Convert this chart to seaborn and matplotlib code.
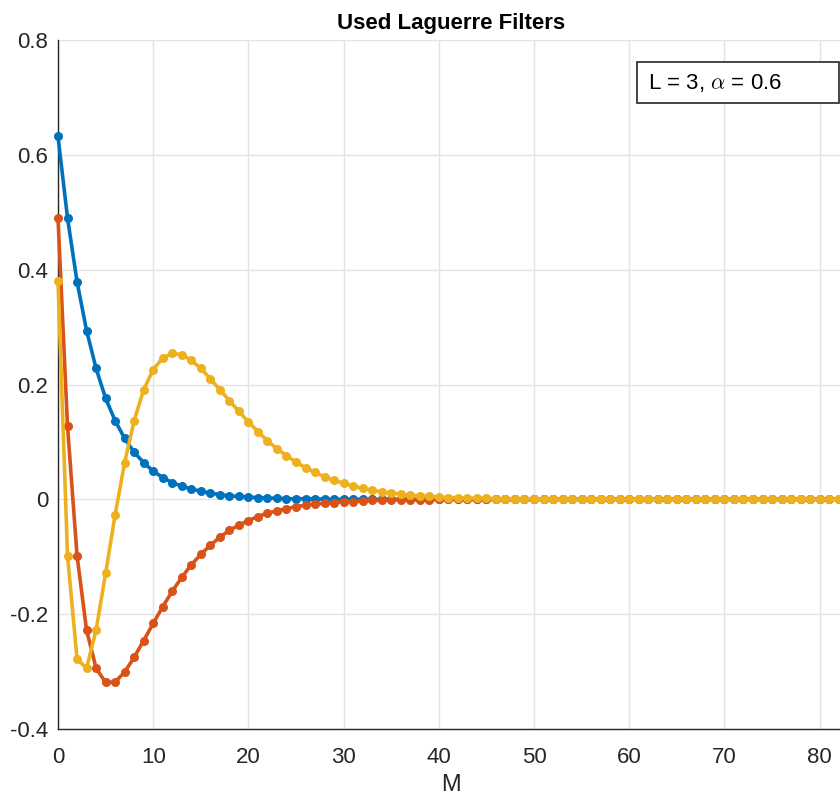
import matplotlib
matplotlib.use("Agg")
import matplotlib.pyplot as plt
import matplotlib.patches as mpatches
from matplotlib.ticker import FuncFormatter
import numpy as np
import pandas as pd
import seaborn as sns

# ---------------- data ----------------
M = list(range(84))

BLUE = [
    0.632, 0.490, 0.379, 0.294, 0.228, 0.176, 0.137, 0.106, 0.082, 0.064,
    0.049, 0.038, 0.029, 0.023, 0.018, 0.014, 0.011, 0.008, 0.006, 0.005,
    0.004, 0.003, 0.002, 0.002, 0.001, 0.001, 0.001, 0.001, 0.000, 0.000,
    0.000, 0.000, 0.000, 0.000, 0.000, 0.000, 0.000, 0.000, 0.000, 0.000,
    0.000, 0.000, 0.000, 0.000, 0.000, 0.000, 0.000, 0.000, 0.000, 0.000,
    0.000, 0.000, 0.000, 0.000, 0.000, 0.000, 0.000, 0.000, 0.000, 0.000,
    0.000, 0.000, 0.000, 0.000, 0.000, 0.000, 0.000, 0.000, 0.000, 0.000,
    0.000, 0.000, 0.000, 0.000, 0.000, 0.000, 0.000, 0.000, 0.000, 0.000,
    0.000, 0.000, 0.000, 0.000,
]

RED = [
    0.490, 0.127, -0.098, -0.228, -0.294, -0.319, -0.318, -0.301, -0.275, -0.246,
    -0.216, -0.187, -0.160, -0.136, -0.114, -0.096, -0.080, -0.066, -0.054, -0.045,
    -0.037, -0.030, -0.024, -0.020, -0.016, -0.013, -0.010, -0.008, -0.007, -0.006,
    -0.004, -0.004, -0.003, -0.002, -0.002, -0.001, -0.001, -0.001, -0.001, -0.001,
    0.000, 0.000, 0.000, 0.000, 0.000, 0.000, 0.000, 0.000, 0.000, 0.000,
    0.000, 0.000, 0.000, 0.000, 0.000, 0.000, 0.000, 0.000, 0.000, 0.000,
    0.000, 0.000, 0.000, 0.000, 0.000, 0.000, 0.000, 0.000, 0.000, 0.000,
    0.000, 0.000, 0.000, 0.000, 0.000, 0.000, 0.000, 0.000, 0.000, 0.000,
    0.000, 0.000, 0.000, 0.000,
]

YELLOW = [
    0.380, -0.098, -0.278, -0.294, -0.228, -0.129, -0.027, 0.064, 0.137, 0.191,
    0.226, 0.246, 0.254, 0.252, 0.242, 0.228, 0.210, 0.191, 0.172, 0.153,
    0.135, 0.118, 0.102, 0.088, 0.076, 0.065, 0.055, 0.047, 0.039, 0.033,
    0.028, 0.023, 0.019, 0.016, 0.013, 0.011, 0.009, 0.007, 0.006, 0.005,
    0.004, 0.003, 0.003, 0.002, 0.002, 0.002, 0.001, 0.001, 0.001, 0.001,
    0.001, 0.000, 0.000, 0.000, 0.000, 0.000, 0.000, 0.000, 0.000, 0.000,
    0.000, 0.000, 0.000, 0.000, 0.000, 0.000, 0.000, 0.000, 0.000, 0.000,
    0.000, 0.000, 0.000, 0.000, 0.000, 0.000, 0.000, 0.000, 0.000, 0.000,
    0.000, 0.000, 0.000, 0.000,
]

SERIES = ["l0", "l1", "l2"]
COLORS = ["#0072BD", "#D95319", "#EDB120"]
X_TICKS = [0, 10, 20, 30, 40, 50, 60, 70, 80]
Y_TICKS = [-0.4, -0.2, 0.0, 0.2, 0.4, 0.6, 0.8]
TITLE = "Used Laguerre Filters"
XLABEL = "M"
BOX_TEXT = r"L = 3, $\alpha$ = 0.6"

df = pd.DataFrame({
    "M": M * 3,
    "value": BLUE + RED + YELLOW,
    "filter": [SERIES[0]] * len(M) + [SERIES[1]] * len(M) + [SERIES[2]] * len(M),
})

# ---------------- style ----------------
sns.set_theme(style="whitegrid")
plt.rcParams["font.family"] = ["Liberation Sans", "DejaVu Sans"]
plt.rcParams["axes.unicode_minus"] = False
plt.rcParams["mathtext.fontset"] = "cm"

TXT = "#262626"

fig = plt.figure(figsize=(8.4, 8.0), dpi=100)
ax = fig.add_axes([58 / 840, 71 / 800, 786 / 840, 689 / 800])

sns.lineplot(
    data=df, x="M", y="value", hue="filter", hue_order=SERIES,
    palette=COLORS, marker="o", markersize=6.5, markeredgewidth=0,
    linewidth=2.6, legend=False, ax=ax,
)
for ln in ax.lines:
    ln.set_clip_on(False)
    ln.set_zorder(3)

ax.set_xlim(0, 82.56)
ax.set_ylim(-0.4, 0.8)
ax.set_xticks(X_TICKS)
ax.set_yticks(Y_TICKS)
ax.yaxis.set_major_formatter(FuncFormatter(lambda v, p: ("%g" % round(v, 2))))
ax.set_facecolor("white")
ax.grid(True, color="#E3E3E3", linewidth=1.0)
ax.set_axisbelow(True)

for s in ["top", "right"]:
    ax.spines[s].set_visible(False)
for s in ["left", "bottom"]:
    ax.spines[s].set_visible(True)
    ax.spines[s].set_color(TXT)
    ax.spines[s].set_linewidth(1.0)

ax.tick_params(axis="both", direction="in", length=6, width=1.0, color=TXT,
               labelsize=16, labelcolor=TXT, pad=7)
ax.tick_params(axis="x", pad=13)

ax.set_xlabel(XLABEL, fontsize=17, color=TXT, labelpad=4)
ax.set_ylabel("")
ax.set_title(TITLE, fontsize=16, fontweight="bold", color="black", pad=8)

# annotation box
rect = mpatches.Rectangle((637 / 840, (800 - 103) / 800), 202 / 840, 41 / 800,
                          transform=fig.transFigure, facecolor="white",
                          edgecolor="#262626", linewidth=1.2, zorder=10)
fig.patches.append(rect)
fig.text(648 / 840, (800 - 83) / 800, BOX_TEXT, fontsize=16, color="black",
         va="center", ha="left", zorder=11)

fig.savefig("out.png", dpi=100)
